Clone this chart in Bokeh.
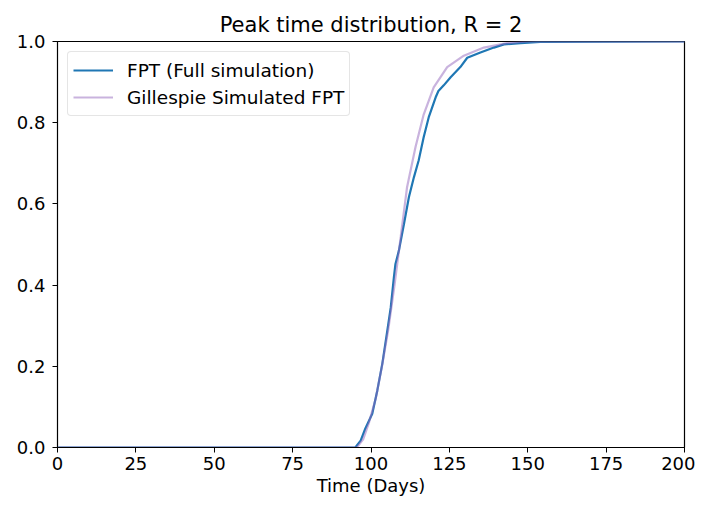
from bokeh.plotting import figure
from bokeh.models import FixedTicker, PrintfTickFormatter, Range1d, Legend, LegendItem
from bokeh.embed import file_html
from bokeh.resources import INLINE

title_text = "Peak time distribution, R = 2"
x_label = "Time (Days)"
x_ticks = [0, 25, 50, 75, 100, 125, 150, 175, 200]
y_ticks = [0.0, 0.2, 0.4, 0.6, 0.8, 1.0]

fpt_days = [0, 95.0, 96.7, 98.2, 100.4, 102.0, 103.6, 105.2, 106.3, 107.3, 107.8, 108.9,
            110.5, 112.1, 113.7, 115.2, 116.8, 118.4, 120.6, 121.5, 123.2, 125.4, 128.5,
            130.7, 134.9, 139.2, 142.4, 147.7, 154.0, 200.0]
fpt_vals = [0, 0, 0.017, 0.047, 0.083, 0.14, 0.206, 0.288, 0.345, 0.419, 0.452, 0.485,
            0.55, 0.617, 0.666, 0.707, 0.764, 0.813, 0.862, 0.878, 0.892, 0.912, 0.937,
            0.96, 0.973, 0.985, 0.993, 0.996, 0.999, 1.0]

gil_days = [0, 95.5, 97.5, 99.3, 101.5, 103.5, 105.5, 107.5, 109.5, 111.5, 114.2, 116.8,
            120.0, 124.3, 129.6, 136.0, 143.4, 150.0, 200.0]
gil_vals = [0, 0, 0.02, 0.06, 0.12, 0.2, 0.29, 0.4, 0.52, 0.641, 0.74, 0.82,
            0.887, 0.937, 0.965, 0.985, 0.996, 1.0, 1.0]

FONT = "DejaVu Sans"

p = figure(frame_width=627, frame_height=406, output_backend="svg", toolbar_location=None,
           x_range=Range1d(0, 200), y_range=Range1d(0, 1),
           min_border_left=57, min_border_right=11, min_border_top=41, min_border_bottom=20)
p.title.text = title_text
p.title.align = "center"
p.title.text_font = FONT
p.title.text_font_size = "21px"
p.title.text_font_style = "normal"
p.title.text_color = "black"
p.title.standoff = 10

p.grid.visible = False
p.outline_line_color = "black"
p.outline_line_width = 1.2
p.outline_line_alpha = 1.0

for ax in (p.xaxis[0], p.yaxis[0]):
    ax.major_tick_in = 0
    ax.major_tick_out = 5
    ax.minor_tick_line_color = None
    ax.major_label_text_font = FONT
    ax.major_label_text_font_size = "18px"
    ax.major_label_text_color = "black"
    ax.axis_line_color = "black"
    ax.major_tick_line_color = "black"
    ax.axis_label_text_font = FONT
    ax.axis_label_text_font_size = "18px"
    ax.axis_label_text_font_style = "normal"
    ax.axis_label_text_color = "black"

p.xaxis.ticker = FixedTicker(ticks=x_ticks)
p.yaxis.ticker = FixedTicker(ticks=y_ticks)
p.yaxis.formatter = PrintfTickFormatter(format="%.1f")
p.xaxis.axis_label = x_label
p.xaxis.axis_label_standoff = 2
p.xaxis.major_label_standoff = 4
p.yaxis.major_label_standoff = 7

r1 = p.line(fpt_days, fpt_vals, line_color="#1f77b4", line_width=2.2)
r2 = p.line(gil_days, gil_vals, line_color="#9467bd", line_alpha=0.5, line_width=2.2)

legend = Legend(items=[LegendItem(label="FPT (Full simulation)", renderers=[r1]),
                       LegendItem(label="Gillespie Simulated FPT", renderers=[r2])],
                location="top_left")
legend.label_text_font = FONT
legend.label_text_font_size = "18.5px"
legend.label_text_color = "black"
legend.border_line_color = "#cccccc"
legend.border_line_width = 1
legend.border_radius = 4
legend.margin = 10
legend.padding = 5
legend.spacing = 1
legend.glyph_width = 40
legend.glyph_height = 26
legend.label_standoff = 14
legend.label_height = 26
p.add_layout(legend)

open("out.html", "w").write(file_html(p, INLINE))
